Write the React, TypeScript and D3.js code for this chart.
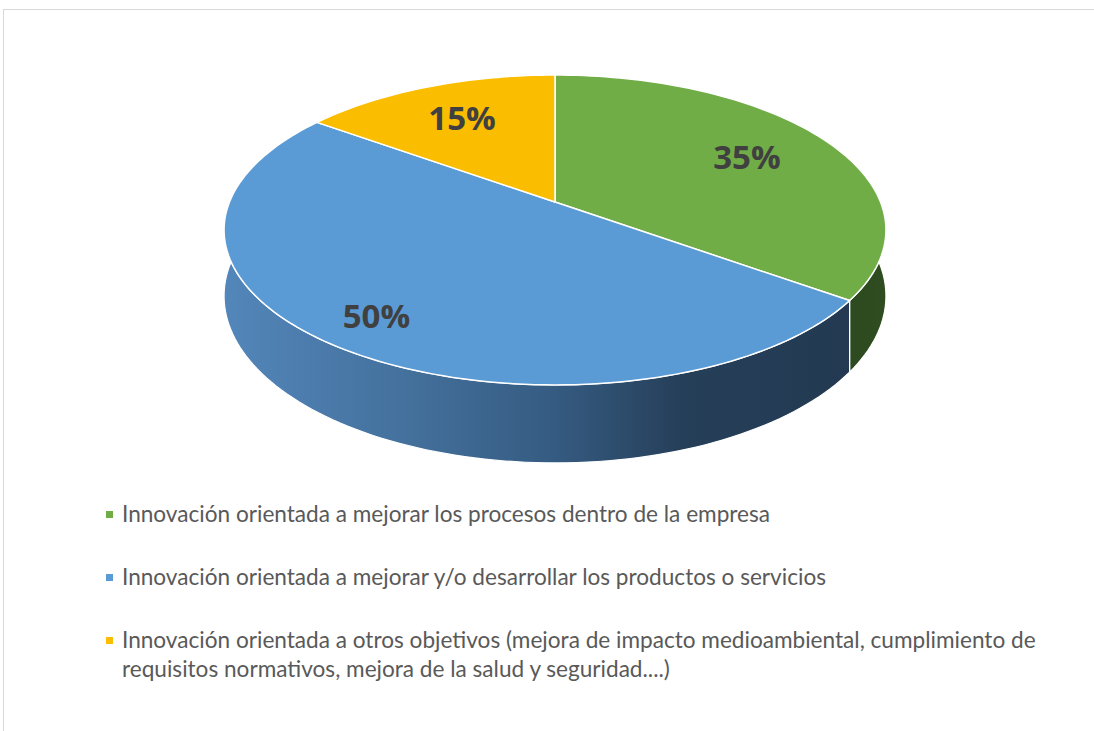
import React, { useEffect, useRef } from "react";
import * as d3 from "d3";

const categories = [
  "Innovación orientada a mejorar los procesos dentro de la empresa",
  "Innovación orientada a mejorar y/o desarrollar los productos o servicios",
  "Innovación orientada a otros objetivos (mejora de impacto medioambiental, cumplimiento de requisitos normativos, mejora de la salud y seguridad....)",
];
const values = [35, 50, 15];
const legendLines = [
  ["Innovación orientada a mejorar los procesos dentro de la empresa"],
  ["Innovación orientada a mejorar y/o desarrollar los productos o servicios"],
  [
    "Innovación orientada a otros objetivos (mejora de impacto medioambiental, cumplimiento de",
    "requisitos normativos, mejora de la salud y seguridad....)",
  ],
];
const topColors = ["#70ad47", "#5b9bd5", "#fbbd00"];

const W = 1094;
const H = 731;

const App = () => {
  const ref = useRef<SVGSVGElement | null>(null);

  useEffect(() => {
    const svg = d3.select(ref.current).attr("width", W).attr("height", H);
    svg.selectAll("*").remove();

    // perspective pie geometry
    const cx = 555, cy = 202;
    const rx = 325.5, ry = 149.9;
    const persp = -0.1806;
    const depth = 63.9;

    const proj = (a: number, r = 1, h = 0): [number, number] => {
      const u = r * Math.sin(a);
      const v = -r * Math.cos(a);
      const s = 1 / (1 + persp * v);
      return [cx + rx * u * s, cy + ry * v * s + h * depth * s];
    };

    const arcPts = (a0: number, a1: number, h = 0) => {
      const n = Math.max(2, Math.ceil(((a1 - a0) / (Math.PI * 2)) * 240));
      return d3.range(n + 1).map(i => proj(a0 + ((a1 - a0) * i) / n, 1, h));
    };

    const line = d3.line<[number, number]>().curve(d3.curveLinear);

    const pie = d3.pie<number>().sort(null).value(d => d);
    const arcs = pie(values);

    // border
    svg.append("line").attr("x1", 3).attr("x2", W).attr("y1", 9.5).attr("y2", 9.5)
      .attr("stroke", "#d9d9d9").attr("stroke-width", 1);
    svg.append("line").attr("x1", 3.5).attr("x2", 3.5).attr("y1", 9).attr("y2", H)
      .attr("stroke", "#d9d9d9").attr("stroke-width", 1);

    const defs = svg.append("defs");
    const gBlue = defs.append("linearGradient").attr("id", "sideBlue")
      .attr("gradientUnits", "userSpaceOnUse")
      .attr("x1", 224).attr("x2", 886).attr("y1", 0).attr("y2", 0);
    [[0, "#5386ba"], [0.27, "#44719d"], [0.5, "#355b81"], [0.69, "#263f59"], [1, "#223850"]]
      .forEach(([o, c]) => gBlue.append("stop").attr("offset", o as number).attr("stop-color", c as string));
    const gGreen = defs.append("linearGradient").attr("id", "sideGreen")
      .attr("gradientUnits", "userSpaceOnUse")
      .attr("x1", 820).attr("x2", 886).attr("y1", 0).attr("y2", 0);
    gGreen.append("stop").attr("offset", 0).attr("stop-color", "#2b461e");
    gGreen.append("stop").attr("offset", 1).attr("stop-color", "#2f4d21");
    const sideFill = ["url(#sideGreen)", "url(#sideBlue)", "#7a5d00"];

    // side walls (only the front half faces the viewer)
    const visA0 = Math.PI * 0.5 - 0.25;
    const visA1 = Math.PI * 1.5 + 0.25;
    const walls = svg.append("g");
    arcs.forEach((d, i) => {
      const a0 = Math.max(d.startAngle, visA0);
      const a1 = Math.min(d.endAngle, visA1);
      if (a1 <= a0) return;
      const top = arcPts(a0, a1, 0);
      const bot = arcPts(a0, a1, 1).reverse();
      walls.append("path")
        .attr("d", line([...top, ...bot]) + "Z")
        .attr("fill", sideFill[i])
        .attr("stroke", "#ffffff")
        .attr("stroke-width", 1.2)
        .attr("stroke-linejoin", "round");
    });

    // top faces
    const tops = svg.append("g");
    arcs.forEach((d, i) => {
      const pts = [proj(0, 0), ...arcPts(d.startAngle, d.endAngle, 0)];
      tops.append("path")
        .attr("d", line(pts) + "Z")
        .attr("fill", topColors[i])
        .attr("stroke", "#ffffff")
        .attr("stroke-width", 1.5)
        .attr("stroke-linejoin", "round");
    });

    // data labels: front slices pushed a bit outward
    arcs.forEach(d => {
      const mid = (d.startAngle + d.endAngle) / 2;
      const front = Math.max(0, -Math.cos(mid));
      const [x, y] = proj(mid, 0.7 + 0.15 * front);
      svg.append("text")
        .attr("x", x).attr("y", y)
        .attr("text-anchor", "middle")
        .attr("dominant-baseline", "central")
        .style("font-family", "'Open Sans', sans-serif")
        .style("font-weight", "bold")
        .style("font-size", "33px")
        .style("fill", "#404040")
        .text(`${d.data}%`);
    });

    // legend
    const legendY = d3.scalePoint<number>().domain(d3.range(categories.length)).range([522, 648]);
    const lg = svg.append("g");
    categories.forEach((c, i) => {
      const y0 = legendY(i)!;
      lg.append("rect")
        .attr("x", 106).attr("y", y0 - 11).attr("width", 7).attr("height", 7)
        .attr("fill", topColors[i]);
      legendLines[i].forEach((t, j) => {
        lg.append("text")
          .attr("x", 122).attr("y", y0 + j * 29)
          .style("font-family", "Lato, sans-serif")
          .style("font-size", "22.6px")
          .style("fill", "#595959")
          .text(t);
      });
    });
  }, []);

  return (
    <div style={{ position: "absolute", left: 0, top: 0, width: W, height: H, background: "#ffffff" }}>
      <svg ref={ref}></svg>
    </div>
  );
};

export default App;
